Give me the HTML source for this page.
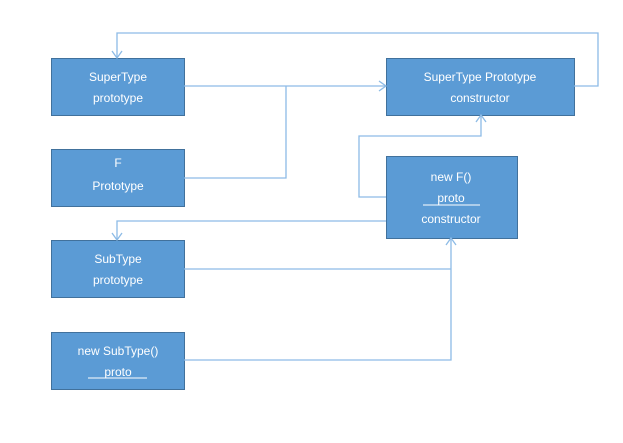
<!DOCTYPE html>
<html><head><style>
body{margin:0;background:#fff;width:623px;height:443px;overflow:hidden}
svg{position:absolute;left:0;top:0}
text{font-family:"Liberation Sans",sans-serif;font-size:12px;fill:#fff;text-anchor:middle}
</style></head><body>
<svg width="623" height="443" viewBox="0 0 623 443">
<g fill="#5b9bd5" stroke="#41719c" stroke-width="1">
<rect x="51.5" y="58.5" width="133" height="57"/>
<rect x="51.5" y="149.5" width="133" height="57"/>
<rect x="386.5" y="58.5" width="188" height="57"/>
<rect x="386.5" y="156.5" width="131" height="82"/>
<rect x="51.5" y="240.5" width="133" height="57"/>
<rect x="51.5" y="332.5" width="133" height="57"/>
</g>
<g fill="none" stroke="#8dbbe6" stroke-width="1.3">
<path d="M574 86 H598 V33 H117 V58"/>
<path d="M112 51 L117 58 L122 51"/>
<path d="M184 86 H386"/>
<path d="M379 81 L386 86 L379 91"/>
<path d="M184 178 H286 V86"/>
<path d="M386 197 H359 V136 H481 V115"/>
<path d="M476 122 L481 115 L486 122"/>
<path d="M386 221 H117 V240"/>
<path d="M112 233 L117 240 L122 233"/>
<path d="M184 269 H451 M184 360 H451 V238"/>
<path d="M446 245 L451 238 L456 245"/>
</g>
<text x="118" y="81">SuperType</text><text x="118" y="102">prototype</text>
<text x="118" y="167">F</text><text x="118" y="190">Prototype</text>
<text x="480" y="81">SuperType Prototype</text><text x="480" y="102">constructor</text>
<text x="451" y="181">new F()</text><text x="451" y="202">proto</text>
<line x1="423" y1="205" x2="480" y2="205" stroke="#fff" stroke-width="1"/>
<text x="451" y="223">constructor</text>
<text x="118" y="263">SubType</text><text x="118" y="284">prototype</text>
<text x="118" y="355">new SubType()</text><text x="118" y="376">proto</text>
<line x1="88" y1="378" x2="147" y2="378" stroke="#fff" stroke-width="1"/>
</svg>
</body></html>
